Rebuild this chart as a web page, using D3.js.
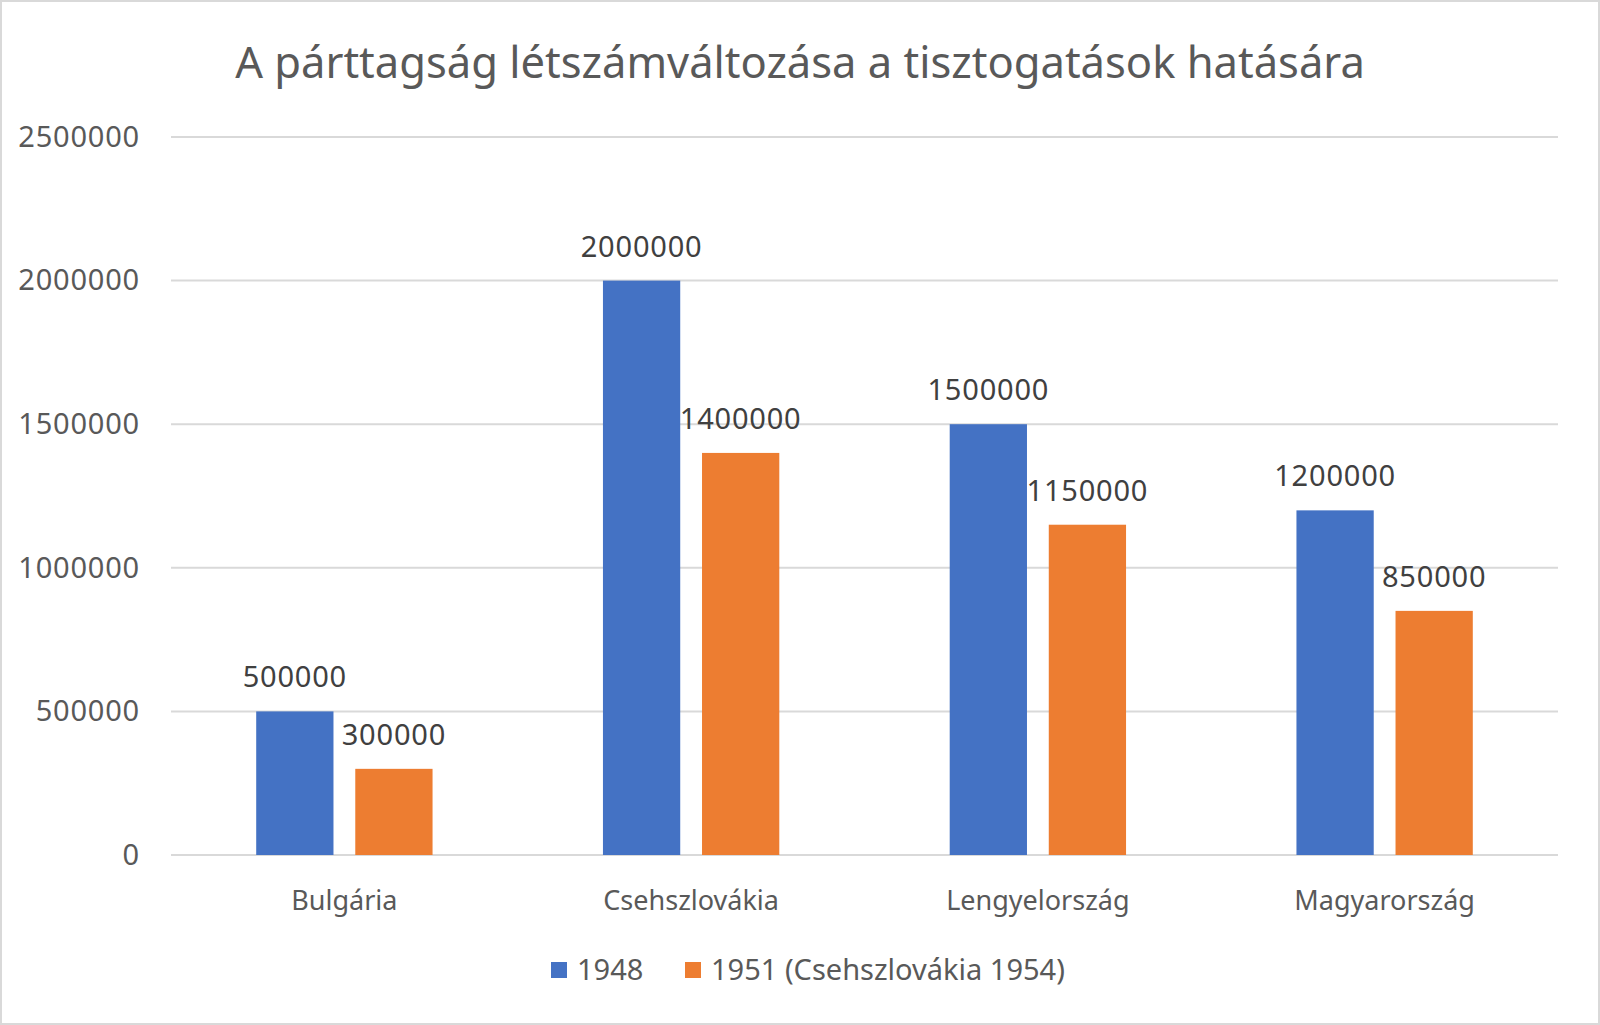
<!DOCTYPE html>
<html>
<head>
<meta charset="utf-8">
<script src="https://cdn.jsdelivr.net/npm/d3@7"></script>
<style>
  body { margin: 0; background: #fff; }
  svg text { font-family: "Noto Sans", "Open Sans", sans-serif; }
</style>
</head>
<body>
<div id="chart"></div>
<script>
// DATA
const title = "A párttagság létszámváltozása a tisztogatások hatására";
const categories = ["Bulgária", "Csehszlovákia", "Lengyelország", "Magyarország"];
const seriesNames = ["1948", "1951 (Csehszlovákia 1954)"];
const values1948 = [500000, 2000000, 1500000, 1200000];
const values1951 = [300000, 1400000, 1150000, 850000];
const yTicks = [0, 500000, 1000000, 1500000, 2000000, 2500000];
const colors = ["#4472C4", "#ED7D31"];

// DIMENSIONS
const width = 1600, height = 1025;
const margin = {top: 137, right: 42, bottom: 170, left: 171};

const svg = d3.select("#chart")
    .append("svg")
    .attr("width", width)
    .attr("height", height);

// border
svg.append("rect")
    .attr("x", 1).attr("y", 1)
    .attr("width", width - 2).attr("height", height - 2)
    .attr("fill", "#fff")
    .attr("stroke", "#D9D9D9")
    .attr("stroke-width", 2);

// TITLE
svg.append("text")
    .attr("x", width / 2)
    .attr("y", 78)
    .attr("text-anchor", "middle")
    .attr("fill", "#595959")
    .style("font-size", "43.5px")
    .text(title);

// SCALES
const x0 = d3.scaleBand()
    .domain(categories)
    .range([margin.left, width - margin.right]);

const x1 = d3.scaleBand()
    .domain(seriesNames)
    .range([0, x0.bandwidth()])
    .paddingInner(0.22)
    .paddingOuter(0.86);

const y = d3.scaleLinear()
    .domain([0, 2500000])
    .range([height - margin.bottom, margin.top]);

// GRIDLINES
svg.append("g")
    .selectAll("line")
    .data(yTicks)
    .enter().append("line")
    .attr("x1", margin.left)
    .attr("x2", width - margin.right)
    .attr("y1", d => y(d))
    .attr("y2", d => y(d))
    .attr("stroke", "#D9D9D9")
    .attr("stroke-width", 2);

// Y AXIS LABELS
const yAxis = d3.axisLeft(y)
    .tickValues(yTicks)
    .tickFormat(d3.format("d"))
    .tickSize(0)
    .tickPadding(31);
svg.append("g")
    .attr("transform", "translate(" + margin.left + ",0)")
    .call(yAxis)
    .call(g => g.select(".domain").remove())
    .selectAll("text")
        .attr("fill", "#595959")
        .style("font-size", "29px")
        .style("letter-spacing", "0.8px");

// X AXIS LABELS
const xAxis = d3.axisBottom(x0)
    .tickSize(0)
    .tickPadding(36);
svg.append("g")
    .attr("transform", "translate(0," + y(0) + ")")
    .call(xAxis)
    .call(g => g.select(".domain").remove())
    .selectAll("text")
        .attr("fill", "#595959")
        .style("font-size", "27px");

// BARS
const rows = categories.map((c, i) => ({
    category: c,
    values: [values1948[i], values1951[i]]
}));

const groups = svg.append("g")
    .selectAll("g")
    .data(rows)
    .enter().append("g")
    .attr("transform", d => "translate(" + x0(d.category) + ",0)");

groups.selectAll("rect")
    .data(d => d.values.map((v, j) => ({key: seriesNames[j], value: v, j: j})))
    .enter().append("rect")
    .attr("x", d => x1(d.key))
    .attr("y", d => y(d.value))
    .attr("width", x1.bandwidth())
    .attr("height", d => y(0) - y(d.value))
    .attr("fill", d => colors[d.j]);

// DATA LABELS
groups.selectAll(".label")
    .data(d => d.values.map((v, j) => ({key: seriesNames[j], value: v})))
    .enter().append("text")
    .attr("class", "label")
    .attr("x", d => x1(d.key) + x1.bandwidth() / 2)
    .attr("y", d => y(d.value) - 24)
    .attr("text-anchor", "middle")
    .attr("fill", "#404040")
    .style("font-size", "29px")
    .style("letter-spacing", "0.8px")
    .text(d => d3.format("d")(d.value));

// LEGEND
const legendX = [551, 685];
const legend = svg.append("g")
    .selectAll("g")
    .data(seriesNames)
    .enter().append("g")
    .attr("transform", (d, i) => "translate(" + legendX[i] + ",970)");

legend.append("rect")
    .attr("x", 0)
    .attr("y", -8)
    .attr("width", 16)
    .attr("height", 16)
    .attr("fill", (d, i) => colors[i]);

legend.append("text")
    .attr("x", 26)
    .attr("y", 0)
    .attr("dy", "0.35em")
    .attr("fill", "#595959")
    .style("font-size", "29px")
    .text(d => d);
</script>
</body>
</html>
